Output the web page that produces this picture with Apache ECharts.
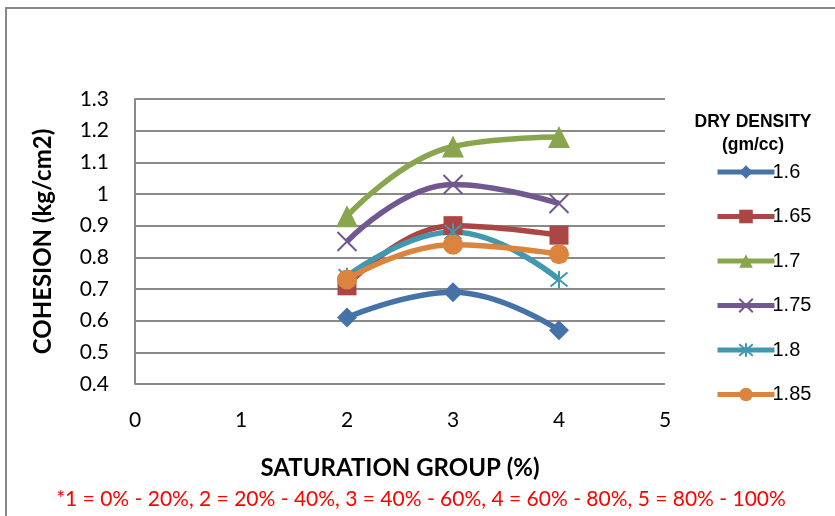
<!DOCTYPE html>
<html><head><meta charset="utf-8">
<script src="https://cdn.jsdelivr.net/npm/echarts@6/dist/echarts.min.js"></script>
<style>html,body{margin:0;padding:0;background:#fff}#c{width:835px;height:516px}</style>
</head><body><div id="c"></div>
<script>
const xValues = [2, 3, 4];
const seriesNames = ['1.6', '1.65', '1.7', '1.75', '1.8', '1.85'];
const d160 = [0.61, 0.69, 0.57];
const d165 = [0.71, 0.90, 0.87];
const d170 = [0.93, 1.15, 1.18];
const d175 = [0.85, 1.03, 0.97];
const d180 = [0.74, 0.88, 0.73];
const d185 = [0.73, 0.84, 0.81];
const allData = [d160, d165, d170, d175, d180, d185];
const colors = ['#4572A7', '#AA4643', '#89A54E', '#71588F', '#4198AF', '#DB843D'];
const symbols = ['diamond', 'rect', 'triangle',
  'path://M0,0L10,10M10,0L0,10',
  'path://M0,0L10,10M10,0L0,10M5,-1L5,11',
  'circle'];
const symSizes = [20, 19, 22, 19, 17, 20];
const font = 'Lato, "Open Sans", sans-serif';
const lfont = '"Liberation Sans", Arial, sans-serif';

const chart = echarts.init(document.getElementById('c'));
const series = seriesNames.map((n, i) => {
  const strokeOnly = i === 3 || i === 4;
  return {
    name: n, type: 'line', smooth: 0.45,
    data: xValues.map((x, j) => [x, allData[i][j]]),
    symbol: symbols[i], symbolSize: symSizes[i],
    lineStyle: { color: colors[i], width: 5.5 },
    itemStyle: strokeOnly ? { color: 'rgba(0,0,0,0)', borderColor: colors[i], borderWidth: 2 } : { color: colors[i], borderWidth: 0 },
    emphasis: { disabled: true }
  };
});
chart.setOption({
  animation: false,
  grid: { left: 135, right: 170, top: 99, bottom: 132 },
  xAxis: {
    type: 'value', min: 0, max: 5, interval: 1,
    name: 'SATURATION GROUP (%)', nameLocation: 'middle', nameGap: 72,
    nameTextStyle: { fontFamily: font, fontWeight: 'bold', fontSize: 24, color: '#000' },
    axisLine: { show: false }, axisTick: { show: false },
    splitLine: { show: false },
    axisLabel: { fontFamily: font, fontSize: 21, color: '#000', margin: 26 }
  },
  yAxis: {
    type: 'value', min: 0.4, max: 1.3, interval: 0.1,
    name: 'COHESION (kg/cm2)', nameLocation: 'middle', nameGap: 80, nameRotate: 90,
    nameTextStyle: { fontFamily: font, fontWeight: 'bold', fontSize: 24, color: '#000' },
    axisLine: { show: true, lineStyle: { color: '#8a8a8a', width: 2 } }, axisTick: { show: false },
    splitLine: { show: true, lineStyle: { color: '#8a8a8a', width: 2 } },
    axisLabel: { fontFamily: font, fontSize: 21, color: '#000', margin: 26,
      formatter: v => String(Math.round(v * 10) / 10) }
  },
  legend: {
    orient: 'vertical', left: 710, top: 157, itemGap: 24.5,
    itemWidth: 57, itemHeight: 17,
    lineStyle: { width: 5 },
    textStyle: { fontFamily: lfont, fontSize: 20, color: '#000', padding: [0, 0, 0, -7] },
    data: seriesNames
  },
  graphic: [
    { type: 'rect', shape: { x: 6, y: 8, width: 900, height: 600 }, style: { fill: 'none', stroke: '#888', lineWidth: 2 }, z: -1 },
    { type: 'text', x: 753, y: 122, style: { text: 'DRY DENSITY', fontFamily: lfont, fontWeight: 'bold', fontSize: 17.5, fill: '#000', textAlign: 'center', textVerticalAlign: 'middle' } },
    { type: 'text', x: 753, y: 145, style: { text: '(gm/cc)', fontFamily: lfont, fontWeight: 'bold', fontSize: 17.5, fill: '#000', textAlign: 'center', textVerticalAlign: 'middle' } },
    { type: 'text', x: 421, y: 499, style: { text: '*1 = 0% - 20%, 2 = 20% - 40%, 3 = 40% - 60%, 4 = 60% - 80%, 5 = 80% - 100%', fontFamily: font, fontSize: 21, fill: '#FF0000', textAlign: 'center', textVerticalAlign: 'middle' } }
  ],
  series: series
});
</script></body></html>
